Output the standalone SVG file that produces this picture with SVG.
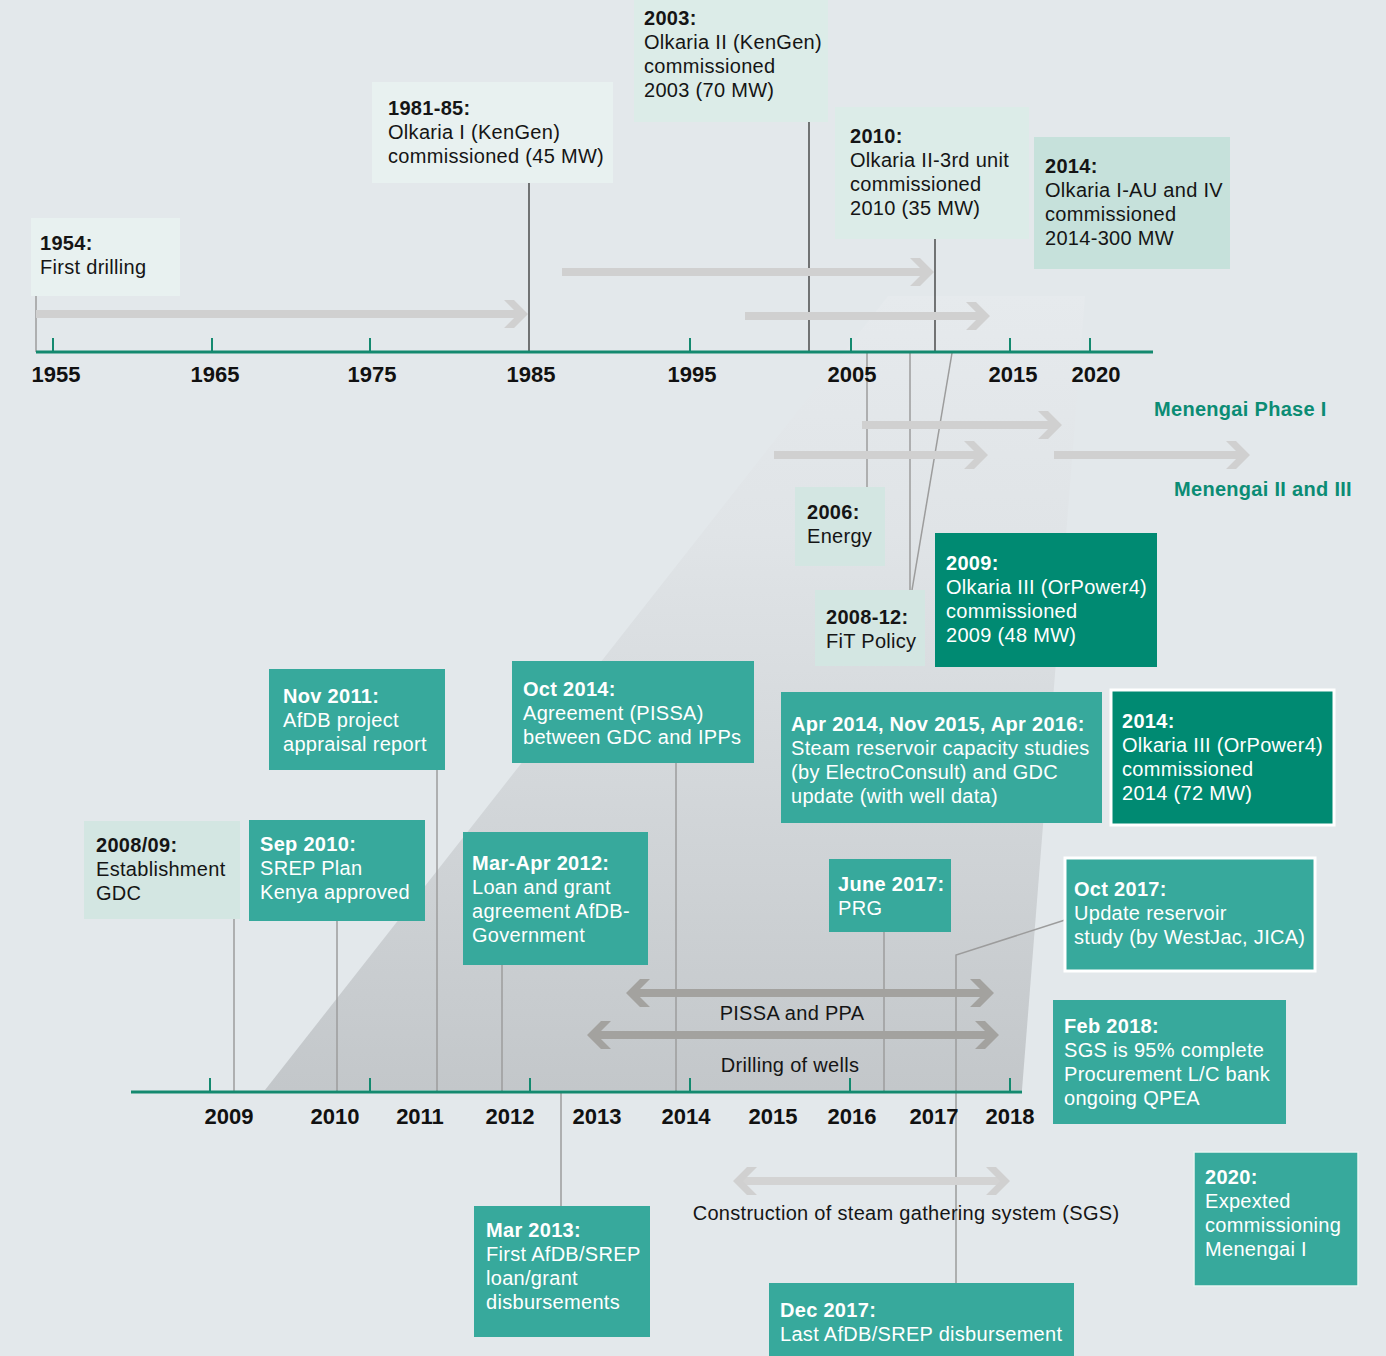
<svg xmlns="http://www.w3.org/2000/svg" width="1386" height="1356" viewBox="0 0 1386 1356">
<style>
text{font-family:"Liberation Sans",Arial,sans-serif;font-size:20px;letter-spacing:0.3px;fill:#151515}
.b{font-weight:bold}
.w{fill:#ffffff}
.yr{font-weight:bold;font-size:22px;letter-spacing:0;text-anchor:middle;fill:#111}
.men{font-weight:bold;font-size:20px;fill:#0b8c74}
.lbl{font-size:20px;text-anchor:middle;fill:#151515}
.l1{fill:#e8f1f0}
.l2{fill:#dcece8}
.l3{fill:#c6e1db}
.l4{fill:#d3e6e2}
.tl{fill:#37a99c}
.dk{fill:#008a72}
.axis{stroke:#14896f;stroke-width:3;fill:none}
.tick{stroke:#14896f;stroke-width:2;fill:none}
.dl{stroke:#333;stroke-width:1.3;fill:none}
.gl{stroke:#9c9c9c;stroke-width:1.5;fill:none}
.ar{stroke:#d0d0d0;stroke-width:8;fill:none;marker-end:url(#chL)}
.ar2{stroke:#a3a29f;stroke-width:8;fill:none;marker-end:url(#chD);marker-start:url(#chD)}
.ar3{stroke:#d3d3d3;stroke-width:8;fill:none;marker-end:url(#chL);marker-start:url(#chL)}
</style>
<defs>
<linearGradient id="trap" x1="0" y1="296" x2="0" y2="1090" gradientUnits="userSpaceOnUse">
<stop offset="0" stop-color="#e6eaed"/>
<stop offset="0.3" stop-color="#e0e4e7"/>
<stop offset="1" stop-color="#c3c7ca"/>
</linearGradient>
<marker id="chL" markerUnits="userSpaceOnUse" markerWidth="24" markerHeight="28" refX="16" refY="14" orient="auto-start-reverse">
<polygon points="0,0 10,0 24,14 10,28 0,28 14,14" fill="#d0d0d0"/>
</marker>
<marker id="chD" markerUnits="userSpaceOnUse" markerWidth="24" markerHeight="28" refX="16" refY="14" orient="auto-start-reverse">
<polygon points="0,0 10,0 24,14 10,28 0,28 14,14" fill="#a3a29f"/>
</marker>
</defs>
<rect width="1386" height="1356" fill="#e3e8eb"/>
<polygon id="zoom-area" points="888,296 1085,296 1022,1090 265,1090" fill="url(#trap)"/>

<g id="connectors">
<line class="gl" x1="36" y1="296" x2="36" y2="352"/>
<line class="dl" x1="529" y1="183" x2="529" y2="352"/>
<line class="dl" x1="809" y1="122" x2="809" y2="352"/>
<line class="dl" x1="935" y1="239" x2="935" y2="352"/>
<line class="gl" x1="867" y1="352" x2="867" y2="487"/>
<line class="gl" x1="910" y1="352" x2="910" y2="590"/>
<line class="gl" x1="952" y1="353" x2="912" y2="590"/>
<path class="ar" d="M36,314 H520"/>
<path class="ar" d="M562,272 H926"/>
<path class="ar" d="M745,316 H982"/>
<path class="ar" d="M862,425 H1054"/>
<path class="ar" d="M774,455 H980"/>
<path class="ar" d="M1054,455 H1242"/>
<line class="gl" x1="234" y1="919" x2="234" y2="1092"/>
<line class="gl" x1="337" y1="921" x2="337" y2="1092"/>
<line class="gl" x1="437" y1="770" x2="437" y2="1092"/>
<line class="gl" x1="502" y1="965" x2="502" y2="1092"/>
<line class="gl" x1="561" y1="1092" x2="561" y2="1206"/>
<line class="gl" x1="676" y1="763" x2="676" y2="1092"/>
<line class="gl" x1="884" y1="932" x2="884" y2="1092"/>
<polyline class="gl" points="1065,920 956,955 956,1283"/>
<path class="ar2" d="M634,993 H986"/>
<path class="ar2" d="M595,1035 H991"/>
<path class="ar3" d="M741,1181 H1002"/>
</g>

<g id="axis-top">
<line class="axis" x1="36" y1="352" x2="1153" y2="352"/>
<path class="tick" d="M53,338V352M212,338V352M370,338V352M690,338V352M851,338V352M1010,338V352M1090,338V352"/>
<text class="yr" x="56" y="382">1955</text>
<text class="yr" x="215" y="382">1965</text>
<text class="yr" x="372" y="382">1975</text>
<text class="yr" x="531" y="382">1985</text>
<text class="yr" x="692" y="382">1995</text>
<text class="yr" x="852" y="382">2005</text>
<text class="yr" x="1013" y="382">2015</text>
<text class="yr" x="1096" y="382">2020</text>
</g>

<g id="axis-bottom">
<line class="axis" x1="131" y1="1092" x2="1022" y2="1092"/>
<path class="tick" d="M210,1078V1092M370,1078V1092M530,1078V1092M690,1078V1092M850,1078V1092M1010,1078V1092"/>
<text class="yr" x="229" y="1124">2009</text>
<text class="yr" x="335" y="1124">2010</text>
<text class="yr" x="420" y="1124">2011</text>
<text class="yr" x="510" y="1124">2012</text>
<text class="yr" x="597" y="1124">2013</text>
<text class="yr" x="686" y="1124">2014</text>
<text class="yr" x="773" y="1124">2015</text>
<text class="yr" x="852" y="1124">2016</text>
<text class="yr" x="934" y="1124">2017</text>
<text class="yr" x="1010" y="1124">2018</text>
</g>

<g id="labels">
<text class="men" x="1154" y="416">Menengai Phase I</text>
<text class="men" x="1174" y="496">Menengai II and III</text>
<text class="lbl" x="792" y="1020">PISSA and PPA</text>
<text class="lbl" x="790" y="1072">Drilling of wells</text>
<text class="lbl" x="906" y="1220">Construction of steam gathering system (SGS)</text>
</g>

<g id="n1954"><rect class="l1" x="31" y="218" width="149" height="78"/>
<text x="40" y="250" class="b">1954:</text><text x="40" y="274">First drilling</text></g>

<g id="n1981"><rect class="l1" x="372" y="82" width="241" height="101"/>
<text x="388" y="115" class="b">1981-85:</text><text x="388" y="139">Olkaria I (KenGen)</text><text x="388" y="163">commissioned (45 MW)</text></g>

<g id="n2003"><rect class="l2" x="634" y="0" width="194" height="122"/>
<text x="644" y="25" class="b">2003:</text><text x="644" y="49">Olkaria II (KenGen)</text><text x="644" y="73">commissioned</text><text x="644" y="97">2003 (70 MW)</text></g>

<g id="n2010"><rect class="l2" x="835" y="107" width="194" height="132"/>
<text x="850" y="143" class="b">2010:</text><text x="850" y="167">Olkaria II-3rd unit</text><text x="850" y="191">commissioned</text><text x="850" y="215">2010 (35 MW)</text></g>

<g id="n2014a"><rect class="l3" x="1034" y="137" width="196" height="132"/>
<text x="1045" y="173" class="b">2014:</text><text x="1045" y="197">Olkaria I-AU and IV</text><text x="1045" y="221">commissioned</text><text x="1045" y="245">2014-300 MW</text></g>

<g id="n2006"><rect class="l4" x="795" y="487" width="90" height="79"/>
<text x="807" y="519" class="b">2006:</text><text x="807" y="543">Energy</text></g>

<g id="n2008-12"><rect class="l4" x="815" y="590" width="110" height="76"/>
<text x="826" y="624" class="b">2008-12:</text><text x="826" y="648">FiT Policy</text></g>

<g id="n2009"><rect class="dk" x="935" y="533" width="222" height="134"/>
<text x="946" y="570" class="b w">2009:</text><text x="946" y="594" class="w">Olkaria III (OrPower4)</text><text x="946" y="618" class="w">commissioned</text><text x="946" y="642" class="w">2009 (48 MW)</text></g>

<g id="nNov2011"><rect class="tl" x="269" y="669" width="176" height="101"/>
<text x="283" y="703" class="b w">Nov 2011:</text><text x="283" y="727" class="w">AfDB project</text><text x="283" y="751" class="w">appraisal report</text></g>

<g id="nOct2014"><rect class="tl" x="512" y="661" width="242" height="102"/>
<text x="523" y="696" class="b w">Oct 2014:</text><text x="523" y="720" class="w">Agreement (PISSA)</text><text x="523" y="744" class="w">between GDC and IPPs</text></g>

<g id="nApr2014"><rect class="tl" x="781" y="692" width="321" height="131"/>
<text x="791" y="731" class="b w">Apr 2014, Nov 2015, Apr 2016:</text><text x="791" y="755" class="w">Steam reservoir capacity studies</text><text x="791" y="779" class="w">(by ElectroConsult) and GDC</text><text x="791" y="803" class="w">update (with well data)</text></g>

<g id="n2014b"><rect class="dk" x="1111" y="690" width="223" height="135" stroke="#ffffff" stroke-width="3"/>
<text x="1122" y="728" class="b w">2014:</text><text x="1122" y="752" class="w">Olkaria III (OrPower4)</text><text x="1122" y="776" class="w">commissioned</text><text x="1122" y="800" class="w">2014 (72 MW)</text></g>

<g id="n2008-09"><rect class="l4" x="84" y="821" width="156" height="98"/>
<text x="96" y="852" class="b">2008/09:</text><text x="96" y="876">Establishment</text><text x="96" y="900">GDC</text></g>

<g id="nSep2010"><rect class="tl" x="249" y="820" width="176" height="101"/>
<text x="260" y="851" class="b w">Sep 2010:</text><text x="260" y="875" class="w">SREP Plan</text><text x="260" y="899" class="w">Kenya approved</text></g>

<g id="nMarApr2012"><rect class="tl" x="463" y="832" width="185" height="133"/>
<text x="472" y="870" class="b w">Mar-Apr 2012:</text><text x="472" y="894" class="w">Loan and grant</text><text x="472" y="918" class="w">agreement AfDB-</text><text x="472" y="942" class="w">Government</text></g>

<g id="nJune2017"><rect class="tl" x="829" y="859" width="122" height="73"/>
<text x="838" y="891" class="b w">June 2017:</text><text x="838" y="915" class="w">PRG</text></g>

<g id="nOct2017"><rect class="tl" x="1065" y="858" width="250" height="113" stroke="#ffffff" stroke-width="3"/>
<text x="1074" y="896" class="b w">Oct 2017:</text><text x="1074" y="920" class="w">Update reservoir</text><text x="1074" y="944" class="w">study (by WestJac, JICA)</text></g>

<g id="nFeb2018"><rect class="tl" x="1053" y="1000" width="233" height="124"/>
<text x="1064" y="1033" class="b w">Feb 2018:</text><text x="1064" y="1057" class="w">SGS is 95% complete</text><text x="1064" y="1081" class="w">Procurement L/C bank</text><text x="1064" y="1105" class="w">ongoing QPEA</text></g>

<g id="n2020"><rect class="tl" x="1194" y="1152" width="164" height="134" stroke="#e9f3f1" stroke-width="1.5"/>
<text x="1205" y="1184" class="b w">2020:</text><text x="1205" y="1208" class="w">Expexted</text><text x="1205" y="1232" class="w">commissioning</text><text x="1205" y="1256" class="w">Menengai I</text></g>

<g id="nMar2013"><rect class="tl" x="474" y="1206" width="176" height="131"/>
<text x="486" y="1237" class="b w">Mar 2013:</text><text x="486" y="1261" class="w">First AfDB/SREP</text><text x="486" y="1285" class="w">loan/grant</text><text x="486" y="1309" class="w">disbursements</text></g>

<g id="nDec2017"><rect class="tl" x="769" y="1283" width="305" height="73"/>
<text x="780" y="1317" class="b w">Dec 2017:</text><text x="780" y="1341" class="w">Last AfDB/SREP disbursement</text></g>
</svg>
